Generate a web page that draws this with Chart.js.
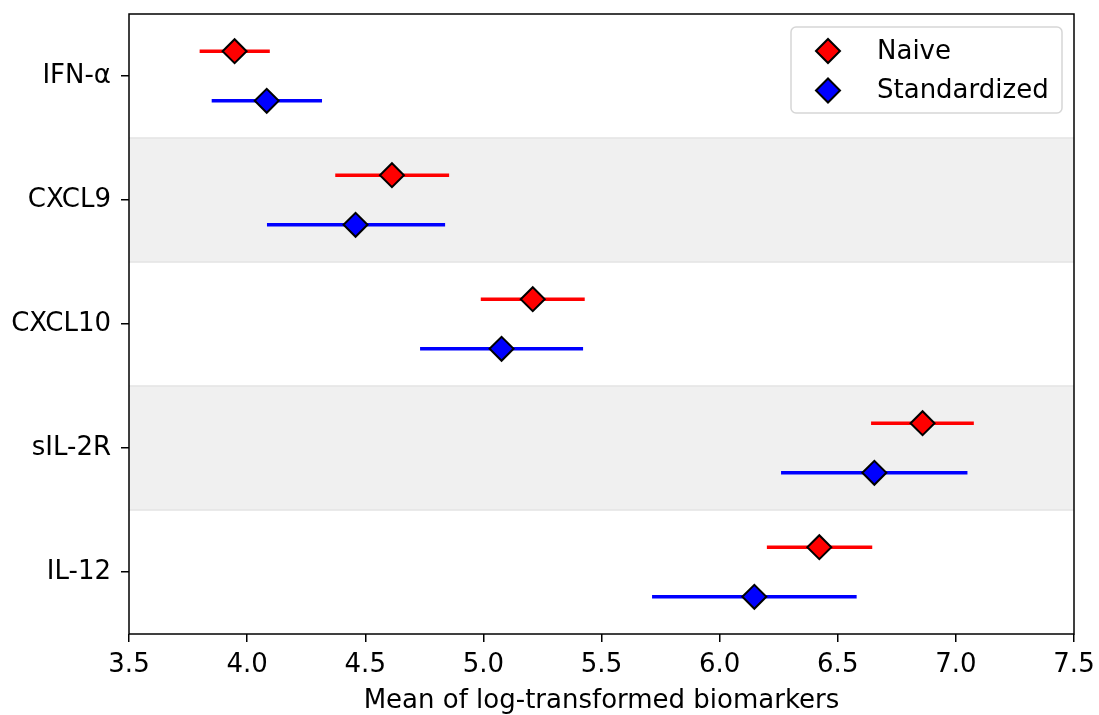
<!DOCTYPE html>
<html>
<head>
<meta charset="utf-8">
<script src="https://cdn.jsdelivr.net/npm/chart.js@4"></script>
<style>
  html, body { margin: 0; padding: 0; background: #fff; }
  canvas { display: block; }
</style>
</head>
<body>
<canvas id="c" width="1099" height="715"></canvas>
<script>
const categories = ['IFN-α', 'CXCL9', 'CXCL10', 'sIL-2R', 'IL-12']

const naiveMean = [3.947, 4.613, 5.209, 6.859, 6.422]
const naiveLow  = [3.799, 4.373, 4.989, 6.641, 6.200]
const naiveHigh = [4.096, 4.855, 5.429, 7.076, 6.646]

const stdMean = [4.083, 4.459, 5.077, 6.655, 6.147]
const stdLow  = [3.850, 4.084, 4.732, 6.260, 5.714]
const stdHigh = [4.317, 4.838, 5.422, 7.049, 6.580]

const xTicks = [3.5, 4.0, 4.5, 5.0, 5.5, 6.0, 6.5, 7.0, 7.5]
const shadedRows = [1, 3]

const FONT = 'DejaVu Sans'
const FS = 26
const ctx = document.getElementById('c').getContext('2d')

// naive sits a bit above the row centre, standardized a bit below
const toPoints = (means, shift) => means.map((m, i) => ({ x: m, y: i + shift }))

const noPad = s => { s.paddingTop = 0; s.paddingBottom = 0; s.paddingLeft = 0; s.paddingRight = 0 }

// ------- shaded bands behind alternating rows ----------
const bands = {
  id: 'bands',
  beforeDatasetsDraw(chart) {
    const { ctx, chartArea, scales: { y } } = chart
    ctx.save()
    shadedRows.forEach(r => {
      const y0 = y.getPixelForValue(r - 0.5)
      const y1 = y.getPixelForValue(r + 0.5)
      ctx.fillStyle = '#f0f0f0'
      ctx.fillRect(chartArea.left, y0, chartArea.right - chartArea.left, y1 - y0)
      ctx.strokeStyle = '#e4e4e4'
      ctx.lineWidth = 1.5
      ctx.beginPath()
      ctx.moveTo(chartArea.left, y0); ctx.lineTo(chartArea.right, y0)
      ctx.moveTo(chartArea.left, y1); ctx.lineTo(chartArea.right, y1)
      ctx.stroke()
    })
    ctx.restore()
  }
}

// ------- horizontal error bars ----------
const errorBars = {
  id: 'errorBars',
  beforeDatasetsDraw(chart) {
    const { ctx, scales: { x, y } } = chart
    ctx.save()
    chart.data.datasets.forEach(ds => {
      ctx.strokeStyle = ds.backgroundColor
      ctx.lineWidth = 3.5
      ds.data.forEach((p, i) => {
        const py = y.getPixelForValue(p.y)
        ctx.beginPath()
        ctx.moveTo(x.getPixelForValue(ds.low[i]), py)
        ctx.lineTo(x.getPixelForValue(ds.high[i]), py)
        ctx.stroke()
      })
    })
    ctx.restore()
  }
}

// ------- frame + legend box ----------
const frameAndLegend = {
  id: 'frameAndLegend',
  afterDatasetsDraw(chart) {
    const { ctx, chartArea: a } = chart
    ctx.save()
    ctx.strokeStyle = '#000'
    ctx.lineWidth = 1.5
    ctx.strokeRect(a.left, a.top, a.right - a.left, a.bottom - a.top)

    // legend
    const bx = a.right - 283, by = a.top + 13, bw = 271, bh = 86
    ctx.beginPath()
    ctx.roundRect(bx, by, bw, bh, 5)
    ctx.fillStyle = 'rgba(255,255,255,0.8)'
    ctx.fill()
    ctx.strokeStyle = '#d6d6d6'
    ctx.lineWidth = 1.5
    ctx.stroke()

    chart.data.datasets.forEach((ds, i) => {
      const cx = bx + 37, cy = by + 24 + i * 39.5
      const r = 12
      ctx.beginPath()
      ctx.moveTo(cx - r, cy); ctx.lineTo(cx, cy - r)
      ctx.lineTo(cx + r, cy); ctx.lineTo(cx, cy + r)
      ctx.closePath()
      ctx.fillStyle = ds.backgroundColor
      ctx.fill()
      ctx.strokeStyle = '#000'
      ctx.lineWidth = 2
      ctx.stroke()
      ctx.fillStyle = '#000'
      ctx.font = `${FS}px "${FONT}"`
      ctx.textBaseline = 'middle'
      ctx.fillText(ds.label, bx + 86, cy + 1)
    })
    ctx.restore()
  }
}

const chart = new Chart(ctx, {
  type: 'scatter',
  data: {
    datasets: [{
      label: 'Naive',
      data: toPoints(naiveMean, -0.2),
      low: naiveLow,
      high: naiveHigh,
      backgroundColor: '#ff0000',
      borderColor: '#000',
      borderWidth: 2,
      pointStyle: 'rectRot',
      pointRadius: 12,
      pointHoverRadius: 12
    }, {
      label: 'Standardized',
      data: toPoints(stdMean, 0.2),
      low: stdLow,
      high: stdHigh,
      backgroundColor: '#0000ff',
      borderColor: '#000',
      borderWidth: 2,
      pointStyle: 'rectRot',
      pointRadius: 12,
      pointHoverRadius: 12
    }]
  },
  options: {
    responsive: false,
    animation: false,
    devicePixelRatio: 1,
    layout: { padding: { top: 11, right: 25, left: 0, bottom: 0 } },
    plugins: {
      legend: { display: false },
      tooltip: { enabled: false }
    },
    scales: {
      x: {
        type: 'linear',
        min: 3.5,
        max: 7.5,
        afterBuildTicks: s => { s.ticks = xTicks.map(v => ({ value: v })) },
        afterFit: s => { s.height = 81; noPad(s) },
        border: { display: false },
        grid: { drawOnChartArea: false, drawTicks: true, tickLength: 8, color: '#000', lineWidth: 1.5 },
        ticks: {
          color: '#000',
          padding: 8,
          font: { family: FONT, size: FS },
          maxRotation: 0,
          callback: v => v.toFixed(1)
        },
        title: {
          display: true,
          text: 'Mean of log-transformed biomarkers',
          color: '#000',
          font: { family: FONT, size: FS },
          padding: { top: 0, bottom: -2 }
        }
      },
      y: {
        type: 'linear',
        min: -0.5,
        max: 4.5,
        reverse: true,
        afterBuildTicks: s => { s.ticks = categories.map((c, i) => ({ value: i })) },
        afterFit: s => { s.width = 129; noPad(s) },
        border: { display: false },
        grid: { drawOnChartArea: false, drawTicks: true, tickLength: 8, color: '#000', lineWidth: 1.5 },
        ticks: {
          color: '#000',
          padding: 10,
          font: { family: FONT, size: FS },
          callback: v => categories[v]
        }
      }
    }
  },
  plugins: [bands, errorBars, frameAndLegend]
})
</script>
</body>
</html>
